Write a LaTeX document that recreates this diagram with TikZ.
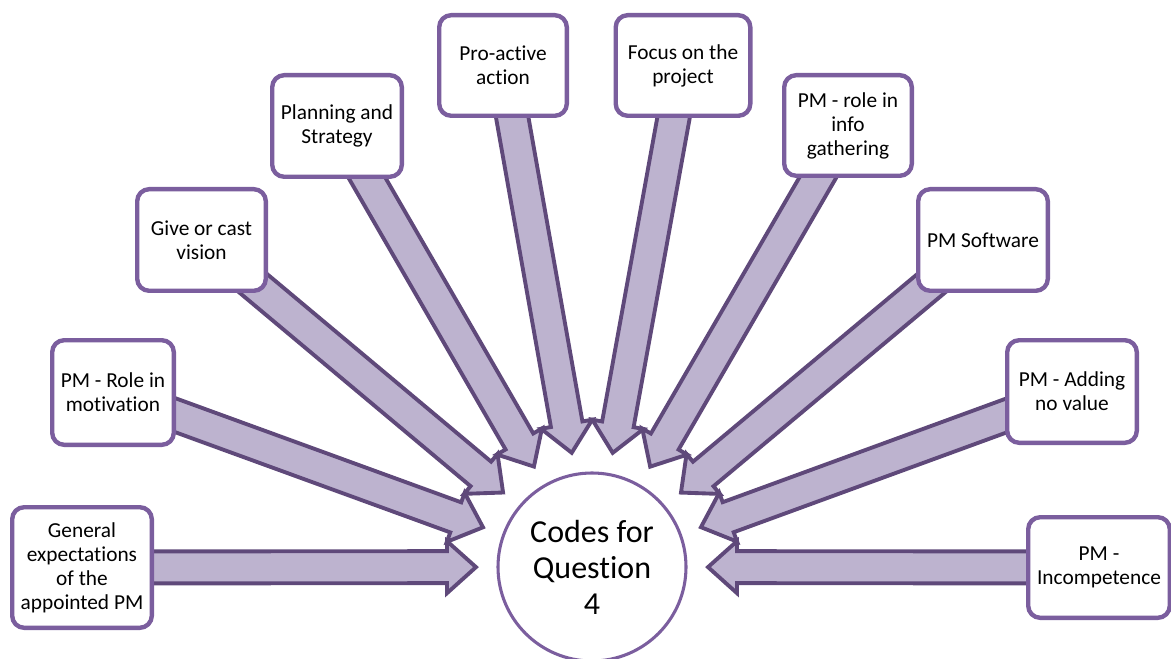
\documentclass[tikz,border=0pt]{standalone}
\usepackage{fontspec}
\setmainfont[Ligatures=CommonOff]{Carlito}
\usetikzlibrary{backgrounds}
\definecolor{boxline}{HTML}{7B5E9E}
\definecolor{spokeline}{HTML}{5F497A}
\definecolor{spokefill}{HTML}{BDB3CF}
\tikzset{
  codebox/.style 2 args={draw=boxline, line width=3.3pt, fill=white,
    rounded corners=9pt, minimum width={#1*0.75pt-3.3pt},
    minimum height={#2*0.75pt-3.3pt}, inner sep=0pt, align=center,
    font=\fontsize{16}{18}\selectfont},
  hubnode/.style={circle, draw=boxline, line width=2.3pt, fill=white,
    minimum size={188*0.75pt}, inner sep=0pt, align=center,
    font=\fontsize{24}{27}\selectfont},
  spoke/.style={draw=spokeline, fill=spokefill, line width=2.9pt,
    line join=miter},
}
% block arrow from a code box towards the hub, drawn in a frame
% rotated along the line hub -> box
\newcommand\spokefrom[1]{%
  \pgfmathanglebetweenpoints{\pgfpointanchor{hub}{center}}{\pgfpointanchor{#1}{center}}%
  \edef\spokeangle{\pgfmathresult}%
  \begin{scope}[shift={(hub.center)}, rotate=\spokeangle]
    \path[spoke] (470,16) -- (145,16) -- (145,26) -- (116,0)
      -- (145,-26) -- (145,-16) -- (470,-16) -- cycle;
  \end{scope}}

\begin{document}
\begin{tikzpicture}[x=0.75pt, y=0.75pt]
\useasboundingbox (0,0) rectangle (1171,658);

\node[hubnode] (hub) at (592,91) {Codes for\\Question\\4};

\node[codebox={144}{125}] (b1)  at (82,90.5)   {General\\expectations\\of the\\appointed PM};
\node[codebox={126}{109}] (b2)  at (113,265.5) {PM - Role in\\motivation};
\node[codebox={133}{106}] (b3)  at (201.5,418) {Give or cast\\vision};
\node[codebox={134}{106}] (b4)  at (337,532)   {Planning and\\Strategy};
\node[codebox={132}{105}] (b5)  at (503,592.5) {Pro-active\\action};
\node[codebox={139}{105}] (b6)  at (683,592.5) {Focus on the\\project};
\node[codebox={132}{105}] (b7)  at (848,532.5) {PM - role in\\info\\gathering};
\node[codebox={134}{106}] (b8)  at (983,418)   {PM Software};
\node[codebox={134}{107}] (b9)  at (1072,266.5) {PM - Adding\\no value};
\node[codebox={146}{105}] (b10) at (1099,90.5) {PM -\\Incompetence};

\begin{scope}[on background layer]
  \foreach \b in {b1,b2,b3,b4,b5,b6,b7,b8,b9,b10} {\spokefrom{\b}}
\end{scope}
\end{tikzpicture}
\end{document}
